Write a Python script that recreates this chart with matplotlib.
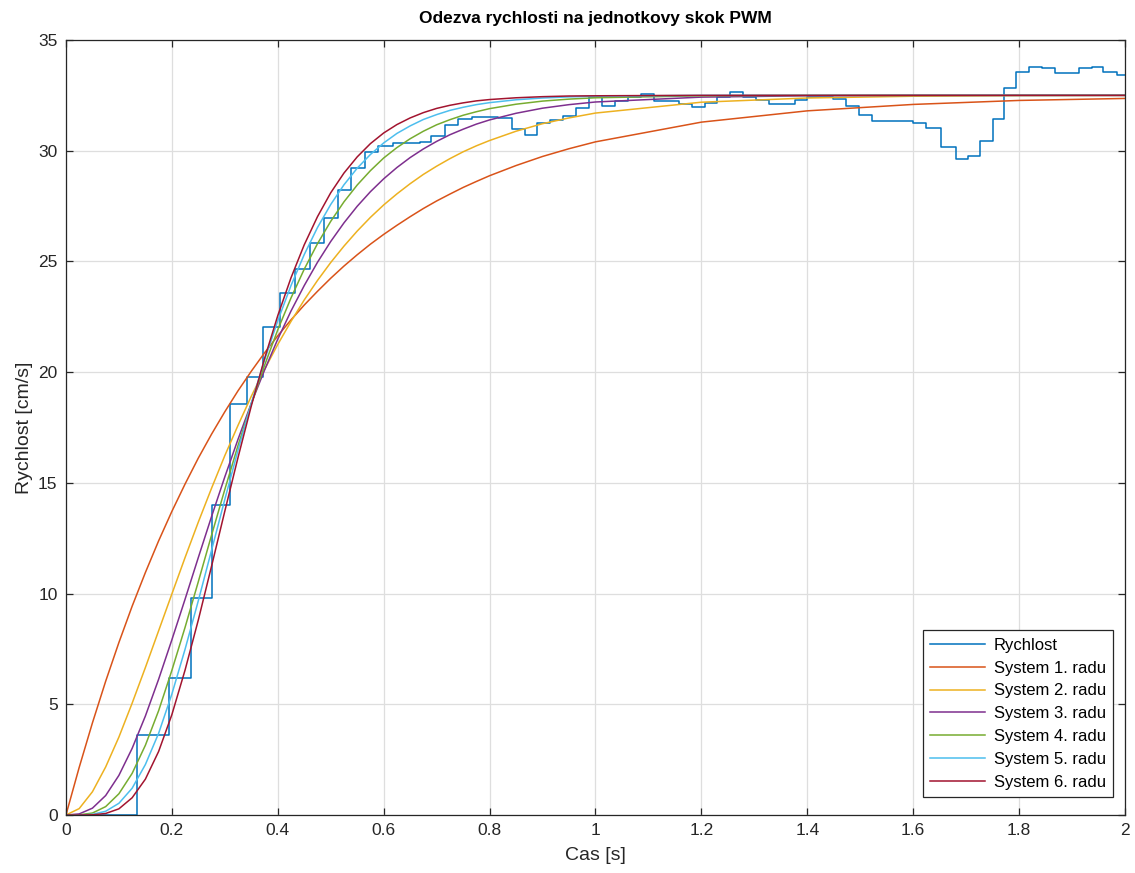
import matplotlib
matplotlib.use("Agg")
import matplotlib.pyplot as plt
from matplotlib.ticker import FuncFormatter

# measured speed (staircase, held between samples)
t_meas = [0, 0.134, 0.194, 0.236, 0.275, 0.31, 0.341, 0.373, 0.404, 0.433,
          0.461, 0.488, 0.513, 0.538, 0.565, 0.59, 0.618, 0.669, 0.69, 0.716,
          0.741, 0.766, 0.816, 0.842, 0.867, 0.89, 0.915, 0.939, 0.964, 0.988,
          1.012, 1.036, 1.061, 1.086, 1.11, 1.158, 1.183, 1.206, 1.23, 1.254,
          1.278, 1.303, 1.328, 1.377, 1.399, 1.448, 1.473, 1.498, 1.523, 1.599,
          1.625, 1.652, 1.681, 1.704, 1.727, 1.75, 1.772, 1.795, 1.819, 1.844,
          1.868, 1.914, 1.937, 1.959, 1.985, 2.0]
v_meas = [0, 3.6, 6.2, 9.8, 14.0, 18.55, 19.8, 22.05, 23.56, 24.65,
          25.82, 26.95, 28.23, 29.2, 29.96, 30.23, 30.34, 30.4, 30.67, 31.17,
          31.42, 31.54, 31.47, 30.97, 30.71, 31.24, 31.39, 31.57, 31.92, 32.44,
          32.02, 32.26, 32.44, 32.57, 32.26, 32.12, 31.96, 32.16, 32.44, 32.63,
          32.44, 32.29, 32.1, 32.29, 32.44, 32.34, 32.04, 31.62, 31.33, 31.24,
          31.04, 30.18, 29.63, 29.78, 30.44, 31.42, 32.84, 33.56, 33.76, 33.72,
          33.5, 33.72, 33.8, 33.56, 33.44, 33.44]

# model responses
t_fit = [0, 0.025, 0.05, 0.075, 0.1, 0.125, 0.15, 0.175, 0.2, 0.225, 0.25,
         0.275, 0.3, 0.325, 0.35, 0.375, 0.4, 0.425, 0.45, 0.475, 0.5, 0.525,
         0.55, 0.575, 0.6, 0.625, 0.65, 0.675, 0.7, 0.725, 0.75, 0.775, 0.8,
         0.85, 0.9, 0.95, 1.0, 1.2, 1.4, 1.6, 1.8, 2.0]
sys1 = [0, 2.15, 4.16, 6.04, 7.79, 9.43, 10.95, 12.38, 13.71, 14.95, 16.12,
        17.20, 18.21, 19.16, 20.04, 20.87, 21.64, 22.36, 23.03, 23.65, 24.24,
        24.79, 25.30, 25.78, 26.22, 26.63, 27.02, 27.39, 27.73, 28.04, 28.34,
        28.61, 28.87, 29.33, 29.74, 30.09, 30.40, 31.29, 31.80, 32.09, 32.27, 32.36]
sys2 = [0, 0.29, 1.05, 2.17, 3.52, 5.05, 6.66, 8.32, 9.98, 11.63, 13.23,
        14.76, 16.23, 17.60, 18.91, 20.12, 21.25, 22.29, 23.26, 24.14, 24.95,
        25.69, 26.37, 26.99, 27.55, 28.05, 28.51, 28.93, 29.30, 29.64, 29.95,
        30.22, 30.46, 30.88, 31.22, 31.48, 31.70, 32.19, 32.38, 32.46, 32.49, 32.50]
sys3 = [0, 0.05, 0.31, 0.88, 1.79, 3.01, 4.47, 6.13, 7.91, 9.75, 11.63,
        13.48, 15.27, 16.97, 18.59, 20.09, 21.49, 22.76, 23.91, 24.96, 25.90,
        26.74, 27.49, 28.15, 28.73, 29.24, 29.69, 30.08, 30.42, 30.72, 30.97,
        31.20, 31.39, 31.69, 31.92, 32.08, 32.20, 32.42, 32.48, 32.50, 32.50, 32.50]
sys4 = [0, 0.01, 0.09, 0.38, 0.96, 1.88, 3.15, 4.71, 6.53, 8.48, 10.54,
        12.64, 14.70, 16.69, 18.56, 20.30, 21.91, 23.35, 24.65, 25.80, 26.81,
        27.69, 28.45, 29.10, 29.67, 30.14, 30.54, 30.88, 31.17, 31.40, 31.60,
        31.76, 31.90, 32.10, 32.24, 32.33, 32.39, 32.48, 32.50, 32.50, 32.50, 32.50]
sys5 = [0, 0.00, 0.03, 0.17, 0.53, 1.21, 2.28, 3.69, 5.46, 7.49, 9.68,
        11.96, 14.25, 16.48, 18.59, 20.54, 22.32, 23.91, 25.31, 26.53, 27.57,
        28.46, 29.21, 29.83, 30.35, 30.78, 31.12, 31.41, 31.63, 31.82, 31.96,
        32.08, 32.17, 32.30, 32.38, 32.43, 32.46, 32.50, 32.50, 32.50, 32.50, 32.50]
sys6 = [0, 0.00, 0.01, 0.07, 0.28, 0.78, 1.62, 2.87, 4.53, 6.55, 8.81,
        11.24, 13.72, 16.15, 18.47, 20.61, 22.55, 24.26, 25.75, 27.02, 28.10,
        28.99, 29.72, 30.32, 30.80, 31.18, 31.48, 31.72, 31.91, 32.05, 32.16,
        32.25, 32.31, 32.39, 32.44, 32.47, 32.48, 32.50, 32.50, 32.50, 32.50, 32.50]

labels = ["Rychlost", "System 1. radu", "System 2. radu", "System 3. radu",
          "System 4. radu", "System 5. radu", "System 6. radu"]
colors = ["#0072BD", "#D95319", "#EDB120", "#7E2F8E", "#77AC30", "#4DBEEE", "#A2142F"]

plt.rcParams['font.family'] = ['Liberation Sans', 'DejaVu Sans']
axc = "#262626"

fig = plt.figure(figsize=(11.35, 8.73), dpi=100)
ax = fig.add_axes([0.0581, 0.0664, 0.9331, 0.8878])

ax.plot(t_meas, v_meas, drawstyle='steps-post', color=colors[0], lw=1.1, label=labels[0])
for ys, c, lab in zip([sys1, sys2, sys3, sys4, sys5, sys6], colors[1:], labels[1:]):
    ax.plot(t_fit, ys, color=c, lw=1.1, label=lab)

ax.set_xlim(0, 2)
ax.set_ylim(0, 35)
ax.set_xticks([0, 0.2, 0.4, 0.6, 0.8, 1.0, 1.2, 1.4, 1.6, 1.8, 2.0])
ax.set_yticks([0, 5, 10, 15, 20, 25, 30, 35])
ax.xaxis.set_major_formatter(FuncFormatter(lambda v, p: "%g" % round(v, 2)))
ax.grid(True, color="#dedede", lw=0.9)
ax.set_axisbelow(True)
ax.tick_params(direction='in', top=True, right=True, length=5, width=0.9,
               labelsize=12.5, colors=axc, pad=6)
for sp in ax.spines.values():
    sp.set_color(axc)
    sp.set_linewidth(0.9)

ax.set_title("Odezva rychlosti na jednotkovy skok PWM", fontsize=12.5,
             fontweight='bold', pad=12)
ax.set_xlabel("Cas [s]", fontsize=14, color=axc, labelpad=6)
ax.set_ylabel("Rychlost [cm/s]", fontsize=14, color=axc, labelpad=4)

leg = ax.legend(loc='lower right', bbox_to_anchor=(0.989, 0.023), borderaxespad=0,
                fontsize=12, handlelength=3.3, fancybox=False, framealpha=1,
                edgecolor=axc, labelspacing=0.47, borderpad=0.45, handletextpad=0.5)
leg.get_frame().set_linewidth(0.9)

plt.savefig("out.png", dpi=100)
